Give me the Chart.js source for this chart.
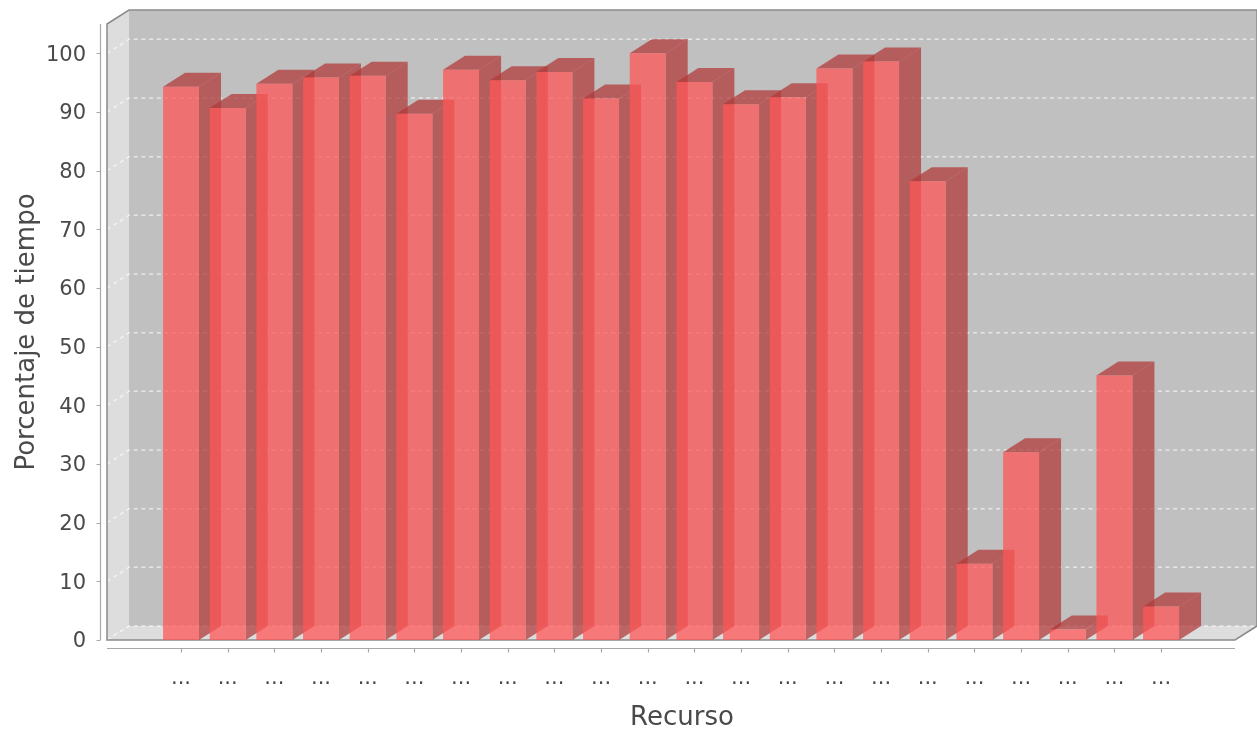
<!DOCTYPE html>
<html>
<head>
<meta charset="utf-8">
<title>Porcentaje de tiempo por recurso</title>
<script src="https://cdn.jsdelivr.net/npm/chart.js@4.4.1/dist/chart.umd.min.js"></script>
<style>
  html, body { margin: 0; padding: 0; background: #ffffff; }
  canvas { display: block; }
</style>
</head>
<body>
<canvas id="chart" width="1257" height="731"></canvas>
<script>
// Resource names are shown truncated on the category axis
const categories = [
  '...', '...', '...', '...', '...', '...', '...', '...', '...', '...', '...',
  '...', '...', '...', '...', '...', '...', '...', '...', '...', '...', '...'
];

// Percentage of time for each resource
const porcentaje = [
  94.3, 90.7, 94.8, 95.9, 96.2, 89.7, 97.2, 95.4, 96.8, 92.3, 100.0,
  95.1, 91.3, 92.5, 97.4, 98.6, 78.2, 13.0, 32.0, 1.8, 45.1, 5.7
];

// Value axis tick labels
const yTicks = [0, 10, 20, 30, 40, 50, 60, 70, 80, 90, 100];

// 3D look: depth offset of the back wall and of every bar
const DEPTH_X = 22;
const DEPTH_Y = 14;

const BACK_PAINT = '#c0c0c0';
const WALL_PAINT = '#dddddd';
const OUTLINE = '#8a8a8a';
const AXIS_LINE = '#a8a8a8';
const BAR_FRONT = 'rgba(255, 85, 85, 0.75)';
const BAR_SHADE = 'rgba(178, 59, 59, 0.75)';
const TEXT = '#4a4a4a';
const FONT = 'DejaVu Sans';

function poly(ctx, pts) {
  ctx.beginPath();
  ctx.moveTo(pts[0][0], pts[0][1]);
  for (let i = 1; i < pts.length; i++) ctx.lineTo(pts[i][0], pts[i][1]);
  ctx.closePath();
}

const plot3d = {
  id: 'plot3d',
  beforeDraw(chart) {
    const { ctx, chartArea: a, scales } = chart;
    const xs = scales.x, ys = scales.y;
    const L = a.left, R = a.right - DEPTH_X, T = a.top, B = a.bottom;
    ctx.save();

    // back wall
    ctx.fillStyle = BACK_PAINT;
    ctx.fillRect(L + DEPTH_X, T - DEPTH_Y, R - L, B - T);

    // left wall and floor
    ctx.fillStyle = WALL_PAINT;
    poly(ctx, [[L, T], [L + DEPTH_X, T - DEPTH_Y], [L + DEPTH_X, B - DEPTH_Y], [L, B]]);
    ctx.fill();
    poly(ctx, [[L, B], [L + DEPTH_X, B - DEPTH_Y], [R + DEPTH_X, B - DEPTH_Y], [R, B]]);
    ctx.fill();

    // dashed gridlines on the left wall and the back wall
    ctx.strokeStyle = 'rgba(255, 255, 255, 0.62)';
    ctx.lineWidth = 1.5;
    ctx.setLineDash([4, 3.7]);
    yTicks.forEach(v => {
      const yy = ys.getPixelForValue(v);
      ctx.beginPath();
      ctx.moveTo(L, yy);
      ctx.lineTo(L + DEPTH_X, yy - DEPTH_Y);
      ctx.lineTo(R + DEPTH_X, yy - DEPTH_Y);
      ctx.stroke();
    });
    ctx.setLineDash([]);

    // plot outline
    ctx.strokeStyle = OUTLINE;
    ctx.lineWidth = 1.5;
    ctx.beginPath();
    ctx.moveTo(L, B);
    ctx.lineTo(L, T);
    ctx.lineTo(L + DEPTH_X, T - DEPTH_Y);
    ctx.lineTo(R + DEPTH_X, T - DEPTH_Y);
    ctx.lineTo(R + DEPTH_X, B - DEPTH_Y);
    ctx.lineTo(R, B);
    ctx.closePath();
    ctx.stroke();

    // value axis line and tick marks
    ctx.strokeStyle = AXIS_LINE;
    ctx.lineWidth = 1.2;
    const ax = L - 6.5;
    ctx.beginPath();
    ctx.moveTo(ax, T);
    ctx.lineTo(ax, B);
    yTicks.forEach(v => {
      const yy = Math.round(ys.getPixelForValue(v)) + 0.5;
      ctx.moveTo(ax - 4, yy);
      ctx.lineTo(ax, yy);
    });
    ctx.stroke();

    // category axis line and tick marks
    const ay = B + 8.5;
    ctx.beginPath();
    ctx.moveTo(L, ay);
    ctx.lineTo(R, ay);
    categories.forEach((c, i) => {
      const xx = Math.round(xs.getPixelForValue(i)) + 0.5;
      ctx.moveTo(xx, ay);
      ctx.lineTo(xx, ay + 4);
    });
    ctx.stroke();
    ctx.restore();
  },
  beforeDatasetsDraw(chart) {
    // top and right faces of each bar, painted before the front faces
    const { ctx } = chart;
    const meta = chart.getDatasetMeta(0);
    ctx.save();
    ctx.fillStyle = BAR_SHADE;
    meta.data.forEach(bar => {
      const p = bar.getProps(['x', 'y', 'base', 'width'], true);
      const left = p.x - p.width / 2, right = p.x + p.width / 2;
      const top = p.y, bottom = p.base;
      poly(ctx, [[left, top], [left + DEPTH_X, top - DEPTH_Y], [right + DEPTH_X, top - DEPTH_Y], [right, top]]);
      ctx.fill();
      poly(ctx, [[right, top], [right + DEPTH_X, top - DEPTH_Y], [right + DEPTH_X, bottom - DEPTH_Y], [right, bottom]]);
      ctx.fill();
    });
    ctx.restore();
  }
};

new Chart(document.getElementById('chart'), {
  type: 'bar',
  data: {
    datasets: [{
      label: 'Porcentaje de tiempo',
      data: porcentaje.map((v, i) => ({ x: i, y: v })),
      backgroundColor: BAR_FRONT,
      borderWidth: 0,
      categoryPercentage: 1.0,
      barPercentage: 0.771
    }]
  },
  options: {
    responsive: false,
    devicePixelRatio: 1,
    animation: false,
    layout: { padding: { top: 24, right: 0, bottom: 0, left: 0 } },
    plugins: {
      legend: { display: false },
      tooltip: { enabled: false }
    },
    scales: {
      x: {
        type: 'linear',
        offset: false,
        // category margins on both sides, the right one includes the 3D depth
        min: -1.586,
        max: 23.055,
        grid: { display: false, drawTicks: false, offset: false },
        border: { display: false },
        afterBuildTicks: s => { s.ticks = categories.map((c, i) => ({ value: i })); },
        afterFit: s => { s.height = 91; s.paddingLeft = 0; s.paddingRight = 0; },
        ticks: {
          autoSkip: false,
          maxRotation: 0,
          includeBounds: false,
          padding: 26,
          color: TEXT,
          font: { family: FONT, size: 21 },
          callback: v => categories[v]
        },
        title: {
          display: true,
          text: 'Recurso',
          color: TEXT,
          font: { family: FONT, size: 26, lineHeight: 1.0 },
          padding: { top: 0, bottom: 0 }
        }
      },
      y: {
        min: 0,
        max: 105,
        grid: { display: false, drawTicks: false },
        border: { display: false },
        afterBuildTicks: s => { s.ticks = yTicks.map(v => ({ value: v })); },
        afterFit: s => { s.width = 107; s.paddingTop = 0; s.paddingBottom = 0; },
        ticks: {
          includeBounds: false,
          padding: 21,
          labelOffset: 2,
          color: TEXT,
          font: { family: FONT, size: 21 }
        },
        title: {
          display: true,
          text: 'Porcentaje de tiempo',
          color: TEXT,
          font: { family: FONT, size: 26 },
          padding: { top: 12, bottom: 0 }
        }
      }
    }
  },
  plugins: [plot3d]
});
</script>
</body>
</html>
